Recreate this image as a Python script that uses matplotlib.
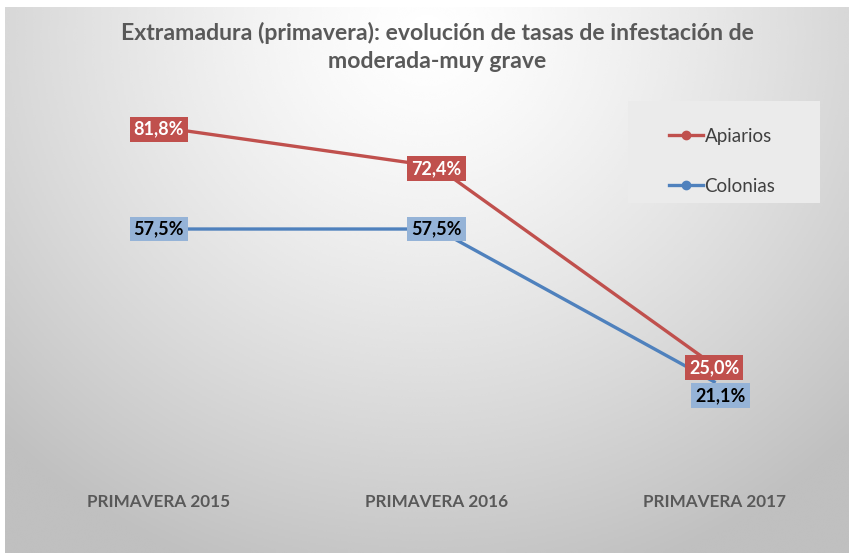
import numpy as np
import matplotlib
matplotlib.use("Agg")
import matplotlib.pyplot as plt
from matplotlib.patches import Rectangle
from matplotlib.lines import Line2D

categories = ["PRIMAVERA 2015", "PRIMAVERA 2016", "PRIMAVERA 2017"]
apiarios = [81.8, 72.4, 25.0]
colonias = [57.5, 57.5, 21.1]
apiarios_labels = ["81,8%", "72,4%", "25,0%"]
colonias_labels = ["57,5%", "57,5%", "21,1%"]

red = "#C0504D"
blue = "#4F81BD"
blue_box = "#95B3D7"
grey_txt = "#595959"
W, H = 854, 557

plt.rcParams['font.family'] = ['Lato', 'DejaVu Sans']

fig = plt.figure(figsize=(W / 100, H / 100), dpi=100)

# background with soft radial gradient
bg = fig.add_axes([5 / W, 4 / H, 844 / W, 546 / H])
yy, xx = np.mgrid[0:1:300j, 0:1:400j]
r = np.sqrt(((xx - 0.5) / 0.72) ** 2 + ((yy - 0.05) / 1.05) ** 2)
shade = 1.0 - 0.25 * np.clip(r, 0, 1) ** 1.3
bg.imshow(shade, cmap="gray", vmin=0, vmax=1, aspect="auto",
          extent=[0, 1, 1, 0], interpolation="bicubic")
bg.set_axis_off()

# legend box
fig.patches.append(Rectangle((628 / W, 1 - 203 / H), 192 / W, 102 / H,
                             transform=fig.transFigure, facecolor="#EBEBEB",
                             edgecolor="none", zorder=1))

ax = fig.add_axes([20 / W, (H - 470.4) / H, 833 / W, 419.8 / H])
ax.patch.set_alpha(0)
x = np.arange(len(categories))
ax.plot(x, apiarios, color=red, lw=2.4, zorder=2)
ax.plot(x, colonias, color=blue, lw=2.4, zorder=2)
ax.set_xlim(-0.5, 2.5)
ax.set_ylim(0, 100)
ax.set_yticks([])
ax.set_xticks(x)
ax.set_xticklabels(categories, fontsize=12.3, fontweight="bold", color=grey_txt)
ax.tick_params(axis="x", length=0, pad=17)
for s in ax.spines.values():
    s.set_visible(False)

for i, (v, lab) in enumerate(zip(apiarios, apiarios_labels)):
    ax.annotate(lab, (x[i], v), xytext=(0, -1.5), textcoords="offset points",
                ha="center", va="center", fontsize=13, fontweight="bold",
                color="white", zorder=4,
                bbox=dict(boxstyle="square,pad=0.22", fc=red, ec="none"))
offsets = [(0, 0), (0, 0), (4.5, -10)]
for i, (v, lab) in enumerate(zip(colonias, colonias_labels)):
    ax.annotate(lab, (x[i], v), xytext=offsets[i], textcoords="offset points",
                ha="center", va="center", fontsize=13, fontweight="bold",
                color="black", zorder=3,
                bbox=dict(boxstyle="square,pad=0.22", fc=blue_box, ec="none"))

handles = [Line2D([], [], color=red, lw=2.4, marker="o", ms=6),
           Line2D([], [], color=blue, lw=2.4, marker="o", ms=6)]
fig.legend(handles, ["Apiarios", "Colonias"], loc="upper left",
           bbox_to_anchor=(652 / W, 1 - 111 / H), frameon=False,
           fontsize=13.5, labelcolor="#404040", handlelength=1.8,
           handletextpad=0.1, labelspacing=1.75)

fig.text(437 / W, 1 - 33 / H, "Extramadura (primavera): evolución de tasas de infestación de",
         ha="center", va="center", fontsize=16.6, fontweight="bold", color=grey_txt)
fig.text(437 / W, 1 - 62 / H, "moderada-muy grave",
         ha="center", va="center", fontsize=16.6, fontweight="bold", color=grey_txt)

fig.savefig("out.png", dpi=100)
